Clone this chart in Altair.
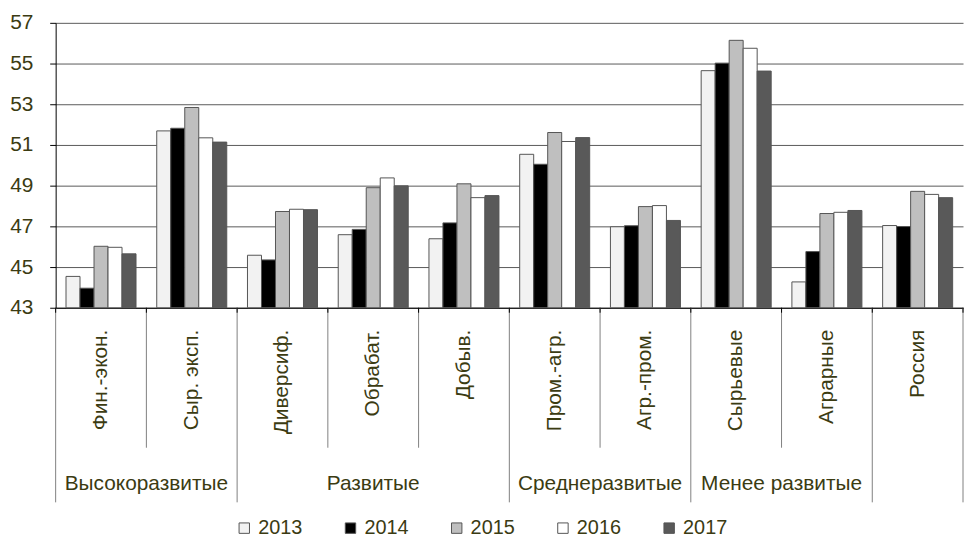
import altair as alt
import pandas as pd
import numpy as np

# ---- data ----
categories = ["Фин.-экон.", "Сыр. эксп.", "Диверсиф.", "Обрабат.", "Добыв.",
              "Пром.-агр.", "Агр.-пром.", "Сырьевые", "Аграрные", "Россия"]
years = ["2013", "2014", "2015", "2016", "2017"]
v2013 = [44.54, 51.69, 45.58, 46.59, 46.39, 50.54, 46.98, 54.65, 44.27, 47.04]
v2014 = [43.96, 51.82, 45.35, 46.85, 47.17, 50.05, 47.03, 55.02, 45.76, 46.99]
v2015 = [46.02, 52.84, 47.73, 48.90, 49.09, 51.61, 47.97, 56.14, 47.63, 48.72]
v2016 = [45.97, 51.35, 47.84, 49.38, 48.41, 51.17, 48.02, 55.75, 47.69, 48.57]
v2017 = [45.65, 51.14, 47.82, 48.99, 48.51, 51.36, 47.29, 54.63, 47.78, 48.41]
groups = ["Высокоразвитые", "Развитые", "Среднеразвитые", "Менее развитые", ""]
group_sizes = [2, 3, 2, 2, 1]
y_ticks = [43, 45, 47, 49, 51, 53, 55, 57]
y_min, y_max = 43, 57

fills = ["#F2F2F2", "#000000", "#BFBFBF", "#FFFFFF", "#595959"]
TXT = "#3b3b12"
FONT = "Liberation Sans"
FS = 21
W, H = 914, 287

rows = []
for y, vals in zip(years, [v2013, v2014, v2015, v2016, v2017]):
    for c, v in zip(categories, vals):
        rows.append({"cat": c, "year": y, "value": v})
df = pd.DataFrame(rows)

cat_df = pd.DataFrame({"cat": categories})

ends = np.cumsum(group_sizes)
starts = ends - np.array(group_sizes)
grp_df = pd.DataFrame({"name": groups, "center": (starts + ends) / 2.0})

bounds = list(range(len(categories) + 1))
long_b = set(starts.tolist()) | set(ends.tolist())
short_df = pd.DataFrame({"b": [b for b in bounds if b not in long_b]})
long_df = pd.DataFrame({"b": sorted(long_b)})
all_df = pd.DataFrame({"b": bounds})

xcat = alt.X("cat:N", sort=categories,
             scale=alt.Scale(paddingInner=0, paddingOuter=0),
             axis=alt.Axis(title=None, labels=False, ticks=False, domain=True,
                           domainColor="#000000", domainWidth=1))

bars = alt.Chart(df).mark_bar(stroke="#555555", strokeWidth=1).encode(
    x=xcat,
    xOffset=alt.XOffset("year:N", sort=years,
                        scale=alt.Scale(paddingInner=0, paddingOuter=0.74)),
    y=alt.Y("value:Q",
            scale=alt.Scale(domain=[y_min, y_max], zero=False, nice=False),
            axis=alt.Axis(title=None, values=y_ticks, grid=True, gridColor="#5a5a5a",
                          gridWidth=1, domainColor="#000000", tickColor="#000000",
                          tickSize=6, labelPadding=17, labelFontSize=FS,
                          labelFont=FONT, labelColor=TXT)),
    y2=alt.datum(y_min),
    fill=alt.Fill("year:N", sort=years,
                  scale=alt.Scale(domain=years, range=fills),
                  legend=alt.Legend(title=None, orient="none", direction="horizontal",
                                    legendX=180, legendY=499, symbolType="square",
                                    symbolSize=110, symbolStrokeColor="#555555",
                                    symbolStrokeWidth=1, labelFontSize=20,
                                    labelFont=FONT, labelColor=TXT, labelOffset=4,
                                    columnPadding=38)),
)

cat_labels = alt.Chart(cat_df).mark_text(
    angle=270, align="right", baseline="middle", fontSize=FS, font=FONT, color=TXT
).encode(
    x=alt.X("cat:N", sort=categories), text="cat:N", y=alt.value(H + 22)
)

qx = lambda f: alt.X(f, scale=alt.Scale(domain=[0, len(categories)], nice=False, zero=False),
                     axis=None)

grp_labels = alt.Chart(grp_df).mark_text(
    align="center", baseline="middle", fontSize=FS, font=FONT, color=TXT
).encode(x=qx("center:Q"), text="name:N", y=alt.value(H + 178))

short_rules = alt.Chart(short_df).mark_rule(color="#808080", strokeWidth=1).encode(
    x=qx("b:Q"), y=alt.value(H), y2=alt.value(H + 141))
long_rules = alt.Chart(long_df).mark_rule(color="#808080", strokeWidth=1).encode(
    x=qx("b:Q"), y=alt.value(H), y2=alt.value(H + 196))
tick_rules = alt.Chart(all_df).mark_rule(color="#000000", strokeWidth=1).encode(
    x=qx("b:Q"), y=alt.value(H), y2=alt.value(H + 5))

bar_part = alt.layer(bars, cat_labels)
ann = alt.layer(short_rules, long_rules, tick_rules, grp_labels)

chart = alt.layer(bar_part, ann).resolve_scale(x="independent").properties(
    width=W, height=H,
    padding={"left": 1, "top": 2, "right": 0, "bottom": 0},
).configure_view(stroke=None)

chart.save("out.html", embed_options={"renderer": "svg", "actions": False})
